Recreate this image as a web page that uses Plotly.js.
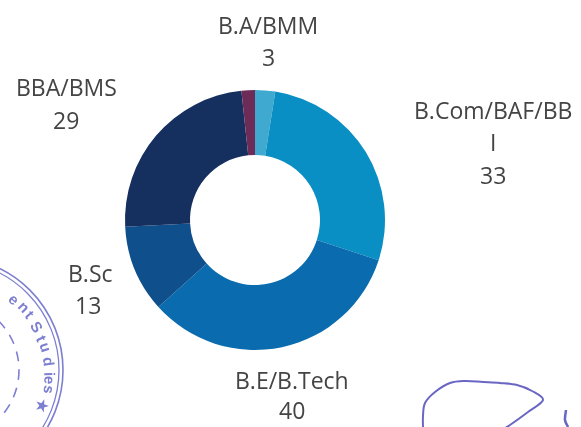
<!DOCTYPE html>
<html>
<head>
<meta charset="utf-8">
<script src="https://cdn.plot.ly/plotly-3.0.1.min.js"></script>
<style>html,body{margin:0;padding:0;background:#fff}#c{width:581px;height:427px;filter:blur(0.5px)}</style>
</head>
<body>
<div id="c"></div>
<script>
const categories = ["B.A/BMM", "B.Com/BAF/BBI", "B.E/B.Tech", "B.Sc", "BBA/BMS", "Other"];
const seriesValues = [3, 33, 40, 13, 29, 2];
const sliceColors = ["#3fa9cf", "#0a8fc4", "#0a6cae", "#0f4f8c", "#15305f", "#6d2b58"];
const W = 581, H = 427;
const px = x => x / W, py = y => 1 - y / H;

const textFont = {family: "Open Sans, Noto Sans, sans-serif", size: 23, color: "#444444"};
function label(text, x, y) {
  return {text, x: px(x), y: py(y), xref: "paper", yref: "paper", showarrow: false,
          xanchor: "center", yanchor: "middle", font: textFont};
}
const annotations = [
  label(categories[0], 268, 25), label(String(seriesValues[0]), 268, 57),
  label("B.Com/BAF/BB", 493, 110), label("I", 493, 142), label(String(seriesValues[1]), 493, 175),
  label(categories[2], 292, 380), label(String(seriesValues[2]), 292, 410),
  label(categories[3], 90, 273), label(String(seriesValues[3]), 88, 305),
  label(categories[4], 66, 87), label(String(seriesValues[4]), 66, 120)
];

// Scanned stamp and signature, decoration around the chart
const ink = "#7d7fd0";
function curveOf(p) {
  let d = "M" + px(p[0][0]) + "," + py(p[0][1]);
  for (let i = 0; i < p.length - 1; i++) {
    const a = p[Math.max(i - 1, 0)], b = p[i], c = p[i + 1], e = p[Math.min(i + 2, p.length - 1)];
    d += " C" + px(b[0] + (c[0] - a[0]) / 6) + "," + py(b[1] + (c[1] - a[1]) / 6) +
         " " + px(c[0] - (e[0] - b[0]) / 6) + "," + py(c[1] - (e[1] - b[1]) / 6) +
         " " + px(c[0]) + "," + py(c[1]);
  }
  return d;
}
function ring(r, w, dash) {
  return {type: "circle", xref: "paper", yref: "paper",
          x0: px(-50 - r), x1: px(-50 + r), y0: py(370 + r), y1: py(370 - r),
          line: {color: ink, width: w, dash: dash || "solid"}, fillcolor: "rgba(0,0,0,0)", layer: "below"};
}
const signature = [[423,427],[423,416],[425,403],[435,392],[450,383],[465,381],[483,382],[500,383],[517,385],[532,391],[543,400],[528,412],[510,425],[506,427]];
const shapes = [
  ring(113, 1.6), ring(109, 1.3), ring(69, 1.6, "10px,8px"),
  {type: "path", xref: "paper", yref: "paper", path: curveOf(signature), line: {color: "#6a67c4", width: 2}, layer: "below"},
  {type: "path", xref: "paper", yref: "paper", path: curveOf([[566,410],[565,420],[568,427]]), line: {color: "#6a67c4", width: 2.5}, layer: "below"}
];
function stamp(text, x, y, angle) {
  return {text, x: px(x), y: py(y), xref: "paper", yref: "paper", showarrow: false, textangle: angle,
          font: {family: "Liberation Sans, sans-serif", size: 15, color: ink, weight: 700}};
}
annotations.push(stamp("e", 3, 311, 40), stamp("n", 12, 318, 46), stamp("t", 19, 325, 50),
  stamp("S", 24, 338, 58), stamp("t", 30, 347, 65), stamp("u", 34, 357, 72),
  stamp("d", 38, 369, 82), stamp("i", 39, 378, 88), stamp("e", 39, 386, 92),
  stamp("s", 38, 397, 98), stamp("★", 31, 418, 20));

Plotly.newPlot("c", [{
  type: "pie",
  labels: categories,
  values: seriesValues,
  hole: 0.5,
  sort: false,
  direction: "clockwise",
  rotation: 0,
  textinfo: "none",
  marker: {colors: sliceColors, line: {width: 0}},
  domain: {x: [px(125), px(385)], y: [py(350), py(90)]},
  showlegend: false
}], {
  width: W, height: H,
  margin: {l: 0, r: 0, t: 0, b: 0},
  paper_bgcolor: "#ffffff",
  showlegend: false,
  annotations, shapes
}, {displayModeBar: false, staticPlot: true});
</script>
</body>
</html>
